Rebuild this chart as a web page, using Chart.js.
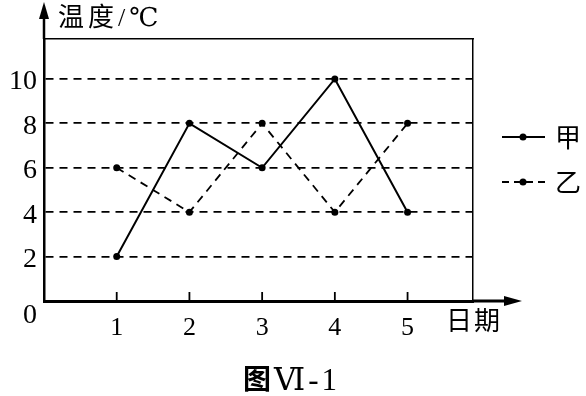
<!DOCTYPE html>
<html>
<head>
<meta charset="utf-8">
<script src="https://cdn.jsdelivr.net/npm/chart.js@4/dist/chart.umd.min.js"></script>
<style>
html,body{margin:0;padding:0;background:#fff;}
#wrap{width:586px;height:396px;position:relative;}
</style>
</head>
<body>
<div id="wrap"><canvas id="c" width="586" height="396"></canvas></div>
<script>
// ---- data ----
const days = [1, 2, 3, 4, 5];
const seriesJia = [2, 8, 6, 10, 4];
const seriesYi = [6, 4, 8, 4, 8];
const seriesNames = ['甲', '乙'];
const yTicks = [0, 2, 4, 6, 8, 10];
const yAxisTitle = '温度/℃';
const xAxisTitle = '日期';
const captionHead = '图';
const captionTail = 'Ⅵ-1';

const SERIF = "'Liberation Serif', 'DejaVu Serif', serif";
const CJK = "'Liberation Serif', 'DejaVu Serif', 'Noto Sans CJK SC', serif";

const toPoints = (vals) => days.map((d, i) => ({x: d, y: vals[i]}));

const decor = {
  id: 'decor',
  afterDraw(chart) {
    const ctx = chart.ctx;
    const a = chart.chartArea;
    const xs = chart.scales.x;
    const ys = chart.scales.y;
    const y0 = ys.getPixelForValue(0);
    const x0 = xs.getPixelForValue(0);
    ctx.save();
    ctx.fillStyle = '#000';
    ctx.strokeStyle = '#000';
    // y axis extension + arrow
    ctx.lineWidth = 2.5;
    ctx.beginPath(); ctx.moveTo(x0, a.top); ctx.lineTo(x0, 14); ctx.stroke();
    ctx.beginPath(); ctx.moveTo(x0, 2); ctx.lineTo(x0 - 5, 19); ctx.lineTo(x0 + 5, 19); ctx.closePath(); ctx.fill();
    // x axis extension + arrow
    ctx.lineWidth = 3;
    ctx.beginPath(); ctx.moveTo(a.right, y0); ctx.lineTo(510, y0); ctx.stroke();
    ctx.beginPath(); ctx.moveTo(522, y0); ctx.lineTo(504, y0 - 5); ctx.lineTo(504, y0 + 5); ctx.closePath(); ctx.fill();
    // x tick marks (inward)
    ctx.lineWidth = 1.8;
    days.forEach(d => {
      const px = xs.getPixelForValue(d);
      ctx.beginPath(); ctx.moveTo(px, y0); ctx.lineTo(px, y0 - 9); ctx.stroke();
    });
    // axis titles
    ctx.textBaseline = 'middle';
    ctx.textAlign = 'left';
    ctx.font = "26px " + CJK;
    try { ctx.letterSpacing = '4px'; } catch (e) {}
    ctx.fillText(yAxisTitle, 58, 19);
    try { ctx.letterSpacing = '2px'; } catch (e) {}
    ctx.fillText(xAxisTitle, 446, 323);
    try { ctx.letterSpacing = '0px'; } catch (e) {}
    // caption
    ctx.textBaseline = 'alphabetic';
    ctx.font = "bold 28px 'Noto Sans CJK SC'";
    const w1 = ctx.measureText(captionHead).width;
    ctx.fillText(captionHead, 243, 389);
    ctx.font = "31px " + SERIF;
    try { ctx.letterSpacing = '3px'; } catch (e) {}
    ctx.fillText(captionTail, 243 + w1 + 3, 390);
    try { ctx.letterSpacing = '0px'; } catch (e) {}
    // legend
    ctx.textBaseline = 'middle';
    chart.data.datasets.forEach((ds, i) => {
      const ly = 137 + i * 45;
      ctx.lineWidth = 1.8;
      ctx.setLineDash(ds.borderDash ? [7, 5] : []);
      ctx.beginPath(); ctx.moveTo(502, ly); ctx.lineTo(545, ly); ctx.stroke();
      ctx.setLineDash([]);
      ctx.beginPath(); ctx.arc(523, ly, 3.5, 0, Math.PI * 2); ctx.fill();
      ctx.textAlign = 'left';
      ctx.font = "26px " + CJK;
      ctx.fillText(ds.label, 555, ly + 3);
    });
    ctx.restore();
  }
};

new Chart(document.getElementById('c'), {
  type: 'line',
  data: {
    datasets: [
      {
        label: seriesNames[0], data: toPoints(seriesJia),
        borderColor: '#000', backgroundColor: '#000', borderWidth: 2,
        pointRadius: 3.5, pointBackgroundColor: '#000', pointBorderWidth: 0, tension: 0
      },
      {
        label: seriesNames[1], data: toPoints(seriesYi),
        borderColor: '#000', backgroundColor: '#000', borderWidth: 1.8, borderDash: [8, 6],
        pointRadius: 3.5, pointBackgroundColor: '#000', pointBorderWidth: 0, tension: 0
      }
    ]
  },
  options: {
    responsive: false,
    animation: false,
    layout: {padding: 0},
    plugins: {legend: {display: false}, tooltip: {enabled: false}},
    scales: {
      x: {
        type: 'linear', position: 'bottom', min: 0, max: 5.9,
        afterBuildTicks: s => { s.ticks = days.map(v => ({value: v})); },
        afterFit: s => { s.height = 95; },
        grid: {display: false, drawTicks: false},
        border: {display: true, color: '#000', width: 3},
        ticks: {color: '#000', padding: 12, font: {family: SERIF, size: 26}, maxRotation: 0}
      },
      x2: {
        type: 'linear', position: 'top', min: 0, max: 5.9,
        afterFit: s => { s.height = 39; },
        grid: {display: false, drawTicks: false},
        border: {display: true, color: '#000', width: 1.5},
        ticks: {display: false}
      },
      y: {
        type: 'linear', position: 'left', min: 0, max: 11.8,
        afterBuildTicks: s => { s.ticks = yTicks.map(v => ({value: v})); },
        afterFit: s => { s.width = 44; },
        grid: {color: '#000', lineWidth: 1.8, drawTicks: false},
        border: {display: true, color: '#000', width: 2.5, dash: [8, 6]},
        ticks: {
          color: '#000', padding: 7, labelOffset: 3,
          font: {family: SERIF, size: 28, lineHeight: 0.8},
          callback: v => v === 0 ? ['', String(v)] : String(v)
        }
      },
      y2: {
        type: 'linear', position: 'right', min: 0, max: 11.8,
        afterFit: s => { s.width = 113; },
        grid: {display: false, drawTicks: false},
        border: {display: true, color: '#000', width: 1.5},
        ticks: {display: false}
      }
    }
  },
  plugins: [decor]
});
</script>
</body>
</html>
